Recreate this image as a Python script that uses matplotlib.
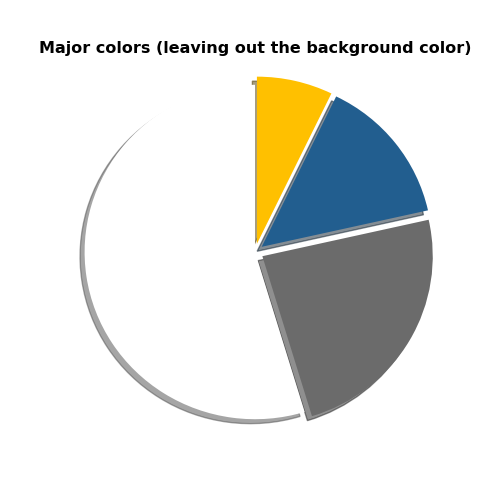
import matplotlib.pyplot as plt

labels = ['Yellow', 'Blue', 'Gray', 'White']
shares = [7.2, 14.3, 23.8, 54.7]
colors = ['#FFC000', '#225E8F', '#6B6B6B', '#FFFFFF']
explode = [0.05, 0.05, 0.05, 0]

fig = plt.figure(figsize=(5.25, 5.25), dpi=96)
# pie area placed by hand to match the reference layout
ax = fig.add_axes([42 / 504, 43 / 504, 426 / 504, 418 / 504])
ax.pie(shares, colors=colors, explode=explode, shadow=True,
       startangle=90, counterclock=False)
ax.set_aspect('auto')
ax.set_xlim(-1.25, 1.25)
ax.set_ylim(-1.25, 1.25)
fig.text(255 / 504, 1 - 49 / 504,
         'Major colors (leaving out the background color)',
         fontweight='bold', fontsize=12, ha='center', va='center')

plt.savefig('out.png', dpi=96)
